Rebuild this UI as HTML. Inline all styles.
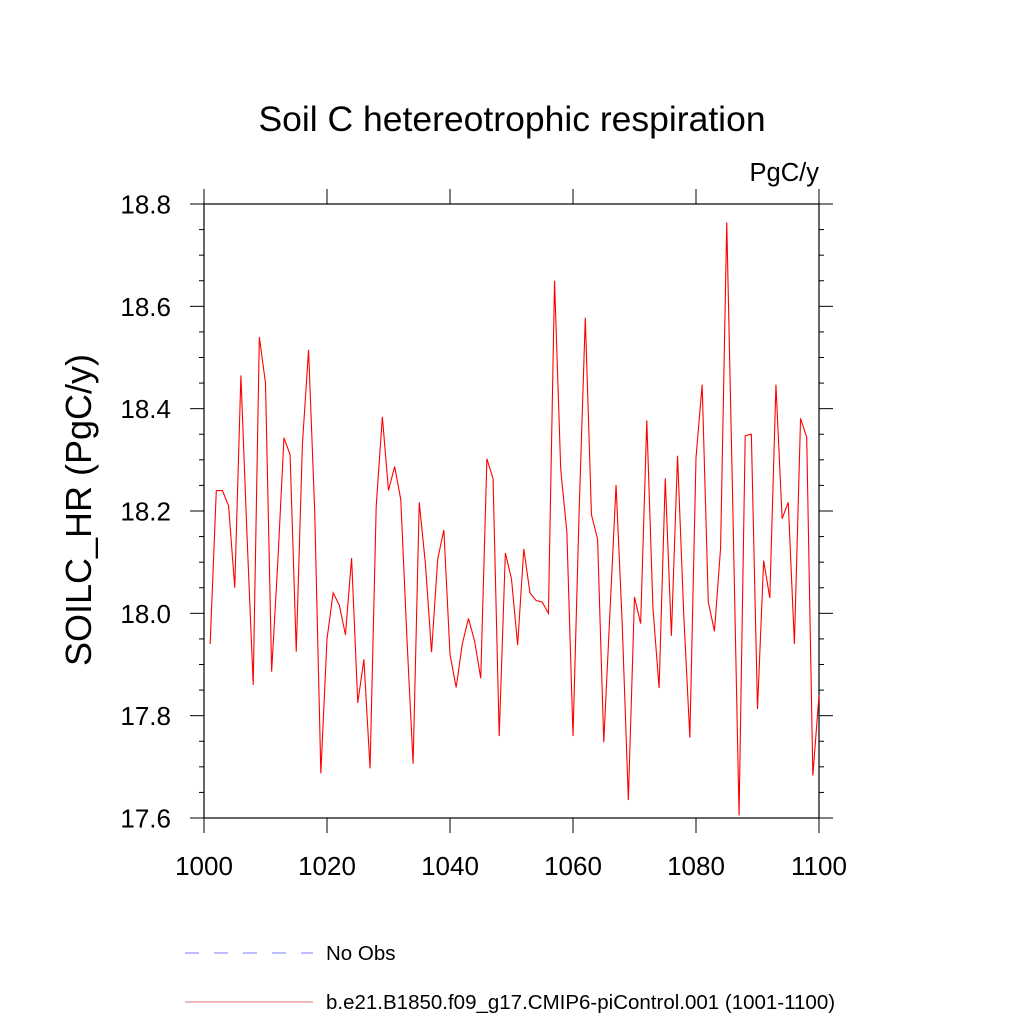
<!DOCTYPE html>
<html><head><meta charset="utf-8"><style>
body{margin:0;background:#fff}
svg text{font-family:"Liberation Sans",sans-serif;fill:#000}
</style></head><body>
<svg id="chart" width="1024" height="1024" viewBox="0 0 1024 1024" xmlns="http://www.w3.org/2000/svg">
<text x="512" y="131" font-size="35.5" text-anchor="middle">Soil C hetereotrophic respiration</text>
<text x="819" y="181" font-size="25.5" text-anchor="end">PgC/y</text>
<text transform="translate(91,510) rotate(-90)" font-size="36" text-anchor="middle">SOILC_HR  (PgC/y)</text>
<g id="axes"></g>
<polyline id="series" fill="none" stroke="#ff0000" stroke-width="1.1"/>
<g>
<line x1="185" y1="953" x2="313" y2="953" stroke="#7f7fff" stroke-width="1" stroke-dasharray="14,15"/>
<text x="326" y="960" font-size="20.5">No Obs</text>
<line x1="185" y1="1002" x2="313" y2="1002" stroke="#e07070" stroke-width="1"/>
<text x="326" y="1009" font-size="20.5">b.e21.B1850.f09_g17.CMIP6-piControl.001 (1001-1100)</text>
</g>
</svg>
<script>
const years = [];
for (let i = 1001; i <= 1100; i++) years.push(i);
const values = [17.94,18.24,18.24,18.21,18.05,18.465,18.15,17.86,18.54,18.45,
17.886,18.1,18.343,18.31,17.925,18.33,18.515,18.2,17.687,17.95,
18.04,18.016,17.958,18.108,17.825,17.91,17.697,18.209,18.384,18.24,
18.287,18.222,17.95,17.706,18.217,18.097,17.924,18.106,18.163,17.92,
17.855,17.94,17.99,17.946,17.873,18.302,18.263,17.76,18.118,18.067,
17.938,18.126,18.04,18.025,18.022,18.0,18.65,18.282,18.159,17.76,
18.2,18.578,18.193,18.145,17.748,18.0,18.251,17.98,17.635,18.032,
17.98,18.377,18.01,17.854,18.264,17.956,18.308,18.0,17.757,18.304,
18.447,18.022,17.965,18.128,18.764,18.2,17.605,18.347,18.35,17.813,
18.103,18.03,18.447,18.185,18.217,17.94,18.381,18.344,17.683,17.84];
const xTicks = [1000,1020,1040,1060,1080,1100];
const yTicks = [17.6,17.8,18.0,18.2,18.4,18.6,18.8];
const X0=204,X1=819,Y0=818,Y1=204;
const xs = v => X0 + (v-1000)/100*(X1-X0);
const ys = v => Y0 - (v-17.6)/1.2*(Y0-Y1);
const NS="http://www.w3.org/2000/svg";
const ax=document.getElementById('axes');
function ln(x1,y1,x2,y2,name){const l=document.createElementNS(NS,'line');
l.setAttribute('x1',x1);l.setAttribute('y1',y1);l.setAttribute('x2',x2);l.setAttribute('y2',y2);
l.setAttribute('stroke','#000');l.setAttribute('stroke-width','1');


ax.appendChild(l);}
const fr=document.createElementNS(NS,'rect');
fr.setAttribute('x',X0);fr.setAttribute('y',Y1);fr.setAttribute('width',X1-X0);fr.setAttribute('height',Y0-Y1);
fr.setAttribute('fill','none');fr.setAttribute('stroke','#000');fr.setAttribute('stroke-width','1.2');


ax.appendChild(fr);
xTicks.forEach(t=>{const x=xs(t);ln(x,Y0,x,Y0+15,'x-tick');ln(x,Y1,x,Y1-15,'x-tick-top');
const tx=document.createElementNS(NS,'text');tx.setAttribute('x',x);tx.setAttribute('y',875);
tx.setAttribute('font-size','26');tx.setAttribute('text-anchor','middle');tx.textContent=t;


ax.appendChild(tx);});
for(let k=0;k<=24;k++){const v=17.6+k*0.05;const y=ys(v);const major=k%4===0;const L=major?14:5;
ln(X0-L,y,X0,y,'y-tick');ln(X1,y,X1+L,y,'y-tick-right');}
yTicks.forEach(t=>{const tx=document.createElementNS(NS,'text');tx.setAttribute('x',171);tx.setAttribute('y',ys(t)+9.5);
tx.setAttribute('font-size','26');tx.setAttribute('text-anchor','end');tx.textContent=t.toFixed(1);


ax.appendChild(tx);});
document.getElementById('series').setAttribute('points',years.map((y,i)=>xs(y).toFixed(2)+','+ys(values[i]).toFixed(2)).join(' '));
</script>
</body></html>
